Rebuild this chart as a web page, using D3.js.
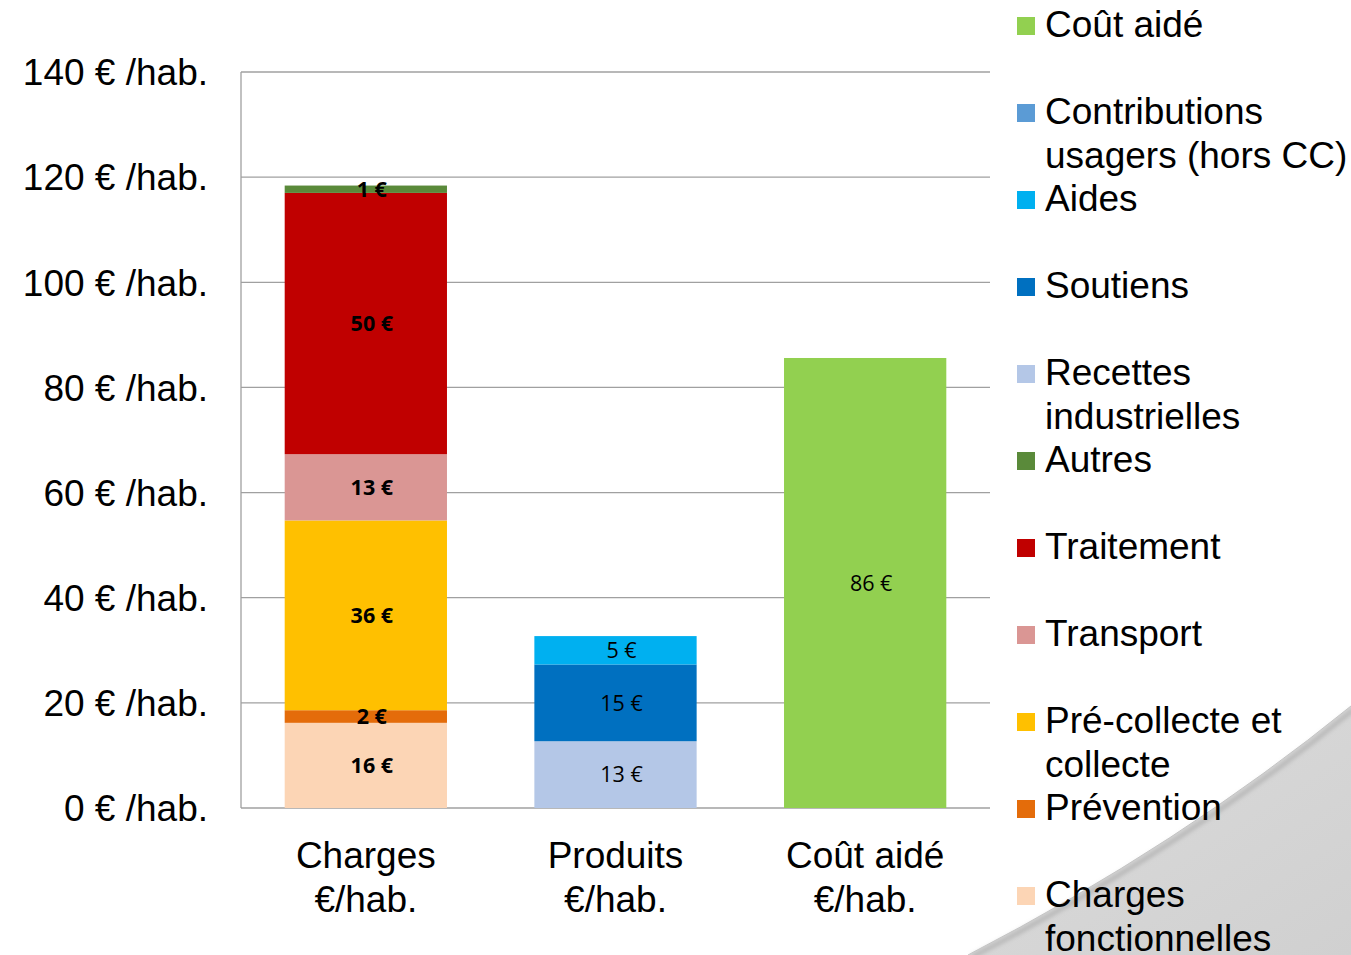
<!DOCTYPE html>
<html><head><meta charset="utf-8">
<script src="https://cdn.jsdelivr.net/npm/d3@7"></script>
<style>
html,body{margin:0;padding:0;background:#fff;}
svg{display:block;}
</style></head>
<body>
<svg id="chart" width="1351" height="955"></svg>
<script>
// ---- data ----
const categories = ["Charges €/hab.", "Produits €/hab.", "Coût aidé €/hab."];
const categoryLines = [["Charges", "€/hab."], ["Produits", "€/hab."], ["Coût aidé", "€/hab."]];
const seriesNames = ["Charges fonctionnelles", "Prévention", "Pré-collecte et collecte", "Transport", "Traitement", "Autres",
                     "Recettes industrielles", "Soutiens", "Aides", "Contributions usagers (hors CC)", "Coût aidé"];
const seriesColors = ["#fcd5b5", "#e46c0a", "#ffc000", "#da9694", "#c00000", "#5a8a3a",
                      "#b4c7e7", "#0070c0", "#00b0f0", "#5b9bd5", "#92d050"];
// values per series: [Charges, Produits, Coût aidé]
const chargesFonctionnelles = [16.2, 0, 0];
const prevention = [2.4, 0, 0];
const precollecte = [36.1, 0, 0];
const transport = [12.6, 0, 0];
const traitement = [49.7, 0, 0];
const autres = [1.4, 0, 0];
const recettes = [0, 12.7, 0];
const soutiens = [0, 14.6, 0];
const aides = [0, 5.4, 0];
const contributions = [0, 0, 0];
const coutAide = [0, 0, 85.6];
const seriesValues = [chargesFonctionnelles, prevention, precollecte, transport, traitement, autres,
                      recettes, soutiens, aides, contributions, coutAide];
const legendLines = [["Coût aidé"], ["Contributions", "usagers (hors CC)"], ["Aides"], ["Soutiens"],
  ["Recettes", "industrielles"], ["Autres"], ["Traitement"], ["Transport"],
  ["Pré-collecte et", "collecte"], ["Prévention"], ["Charges", "fonctionnelles"]];
const yTicks = [0, 20, 40, 60, 80, 100, 120, 140];
const yTickLabel = v => v + " € /hab.";

// ---- layout ----
const svg = d3.select("#chart");
const pLeft = 241, pRight = 990, pTop = 72, pBottom = 808;
const x = d3.scaleBand().domain(categories).range([pLeft, pRight]).paddingInner(0.35).paddingOuter(0.175);
const y = d3.scaleLinear().domain([0, 140]).range([pBottom, pTop]);
const font = "'Liberation Sans', Arial, sans-serif";
const labelFont = "'Open Sans', 'Noto Sans', sans-serif";
const fs = 37;

// page curl decoration
const defs = svg.append("defs");
const g1 = defs.append("linearGradient").attr("id", "curl").attr("x1", "0").attr("y1", "0").attr("x2", "1").attr("y2", "1");
g1.append("stop").attr("offset", "0").attr("stop-color", "#dcdcdc");
g1.append("stop").attr("offset", "1").attr("stop-color", "#d0d0d0");
const f = defs.append("filter").attr("id", "soft").attr("x", "-10%").attr("y", "-10%").attr("width", "120%").attr("height", "120%");
f.append("feGaussianBlur").attr("stdDeviation", 2);
svg.append("path")
  .attr("d", "M968,955 Q1180,845 1351,706 L1351,955 Z")
  .attr("fill", "url(#curl)");
svg.append("path")
  .attr("d", "M972,957 Q1183,849 1353,710")
  .attr("fill", "none").attr("stroke", "#b4b4b4").attr("stroke-width", 4).attr("filter", "url(#soft)");
svg.append("path")
  .attr("d", "M968,955 Q1180,845 1351,706")
  .attr("fill", "none").attr("stroke", "#c4c4c4").attr("stroke-width", 1);

// gridlines
svg.append("g").selectAll("line").data(yTicks).join("line")
  .attr("x1", pLeft).attr("x2", pRight)
  .attr("y1", d => y(d)).attr("y2", d => y(d))
  .attr("stroke", "#a0a0a0").attr("stroke-width", 1.3);
svg.append("line").attr("x1", pLeft).attr("x2", pLeft).attr("y1", pTop).attr("y2", pBottom)
  .attr("stroke", "#a0a0a0").attr("stroke-width", 1.3);

// y labels
svg.append("g").selectAll("text").data(yTicks).join("text")
  .attr("x", 208).attr("y", d => y(d)).attr("dy", "0.36em")
  .attr("text-anchor", "end").attr("font-family", font).attr("font-size", fs)
  .attr("fill", "#000").text(yTickLabel);

// stacks
const stackData = categories.map((c, i) => {
  const o = { cat: c };
  seriesNames.forEach((s, j) => o[s] = seriesValues[j][i]);
  return o;
});
const stacked = d3.stack().keys(seriesNames)(stackData);
const barsG = svg.append("g");
stacked.forEach((layer, j) => {
  barsG.selectAll(null).data(layer.filter(d => d[1] - d[0] > 0)).join("rect")
    .attr("x", d => x(d.data.cat)).attr("width", x.bandwidth())
    .attr("y", d => y(d[1])).attr("height", d => y(d[0]) - y(d[1]))
    .attr("fill", seriesColors[j]);
});
stacked.forEach((layer, j) => {
  barsG.selectAll(null).data(layer.filter(d => d[1] - d[0] > 0)).join("text")
    .attr("x", d => x(d.data.cat) + x.bandwidth() / 2 + 6)
    .attr("y", d => (y(d[0]) + y(d[1])) / 2).attr("dy", "0.36em")
    .attr("text-anchor", "middle").attr("font-family", labelFont)
    .attr("font-size", 21.5)
    .attr("font-weight", d => d.data.cat === categories[0] ? "bold" : "normal")
    .attr("fill", "#000")
    .text(d => Math.round(d[1] - d[0]) + " €");
});

// x labels
const xl = svg.append("g");
categories.forEach((c, i) => {
  const t = xl.append("text").attr("x", x(c) + x.bandwidth() / 2).attr("y", 868)
    .attr("text-anchor", "middle").attr("font-family", font).attr("font-size", fs).attr("fill", "#000");
  categoryLines[i].forEach((ln, k) => {
    t.append("tspan").attr("x", x(c) + x.bandwidth() / 2).attr("y", 868 + k * 43.5).text(ln);
  });
});

// legend
const legendOrder = seriesNames.slice().reverse();
const lg = svg.append("g");
legendOrder.forEach((name, i) => {
  const base = 37 + 87 * i;
  const col = seriesColors[seriesNames.indexOf(name)];
  lg.append("rect").attr("x", 1017).attr("y", base - 20).attr("width", 18).attr("height", 18).attr("fill", col);
  const t = lg.append("text").attr("font-family", font).attr("font-size", fs).attr("fill", "#000");
  legendLines[i].forEach((ln, k) => {
    t.append("tspan").attr("x", 1045).attr("y", base + k * 43.5).text(ln);
  });
});
</script>
</body></html>
